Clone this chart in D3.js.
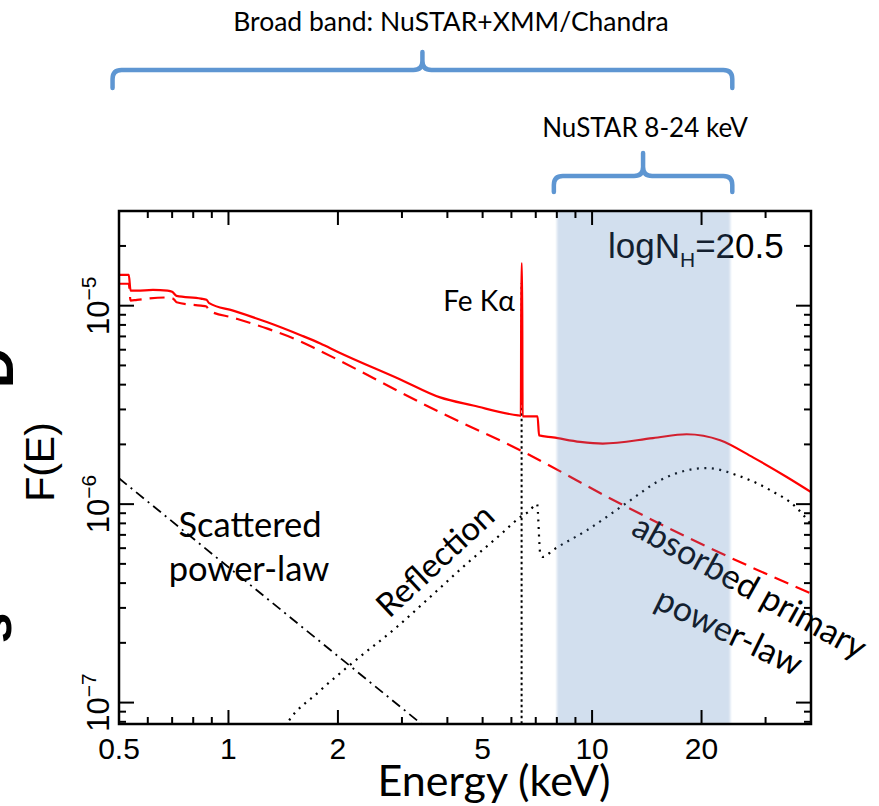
<!DOCTYPE html>
<html>
<head>
<meta charset="utf-8">
<script src="https://cdn.jsdelivr.net/npm/d3@7"></script>
<style>
  body { margin: 0; background: #fff; }
  svg { display: block; }
</style>
</head>
<body>
<svg id="chart" width="879" height="806"></svg>
<script>
// Model components, [energy keV, F(E)]
var totalModel = [
  [0.50, 1.43e-5], [0.532, 1.43e-5], [0.538, 1.19e-5], [0.56, 1.19e-5], [0.62, 1.20e-5],
  [0.68, 1.19e-5], [0.70, 1.175e-5], [0.72, 1.12e-5], [0.84, 1.085e-5], [0.87, 1.07e-5],
  [0.885, 1.03e-5], [1.03, 9.44e-6], [1.28, 8.25e-6], [1.58, 7.1e-6], [1.79, 6.45e-6],
  [2.0, 5.85e-6], [2.97, 4.25e-6], [3.82, 3.45e-6], [4.71, 3.14e-6], [6.26, 2.80e-6],
  [6.37, 2.79e-6], [6.39, 1.63e-5], [6.42, 1.63e-5], [6.44, 2.77e-6], [7.08, 2.77e-6],
  [7.15, 2.22e-6], [7.81, 2.17e-6], [9.27, 2.06e-6], [10.7, 2.02e-6], [14.7, 2.15e-6],
  [18.2, 2.25e-6], [22.5, 2.10e-6], [27.7, 1.72e-6], [34.3, 1.37e-6], [40, 1.15e-6]
];
var absorbedPL = [
  [0.50, 1.29e-5], [0.532, 1.29e-5], [0.538, 1.06e-5], [0.56, 1.07e-5], [0.68, 1.10e-5],
  [0.705, 1.085e-5], [0.72, 1.04e-5], [0.84, 1.0e-5], [0.87, 9.9e-6], [0.885, 9.45e-6],
  [1.03, 8.7e-6], [1.28, 7.66e-6], [1.58, 6.6e-6], [1.76, 6.0e-6], [3.82, 2.90e-6],
  [6.34, 1.87e-6], [11.9, 1.01e-6], [18.2, 6.83e-7], [27.7, 4.77e-7], [40, 3.55e-7]
];
var reflection = [
  [1.40, 7.0e-8], [1.45, 7.84e-8], [1.76, 1.12e-7], [2.16, 1.55e-7], [2.91, 2.41e-7],
  [3.59, 3.41e-7], [4.42, 4.83e-7], [5.66, 7.15e-7], [6.34, 8.6e-7], [6.67, 9.12e-7],
  [7.06, 1.0e-6], [7.2, 5.67e-7], [7.33, 5.42e-7], [7.81, 5.87e-7], [9.69, 7.4e-7],
  [12.5, 1.02e-6], [15.4, 1.32e-6], [18.2, 1.48e-6], [20.7, 1.52e-6], [25.0, 1.40e-6],
  [30.8, 1.18e-6], [36.6, 9.55e-7], [40, 7.9e-7]
];
var feLine = [[6.40, 5e-8], [6.40, 1.30e-5]];
var scatteredPL = [[0.5, 1.35e-6], [3.6, 7.15e-8]];

// Axes
var xDomain = [0.5, 40];
var yDomain = [7.8e-8, 3.0e-5];
var xTickLabels = [0.5, 1, 2, 5, 10, 20];
var xMajorTicks = [1, 2, 10, 20];
var xMinorTicks = [0.6, 0.7, 0.8, 0.9, 3, 4, 5, 6, 7, 8, 9, 30];
var yMajorTicks = [1e-7, 1e-6, 1e-5];
var yTickExp = ["\u22127", "\u22126", "\u22125"];
var yMinorTicks = [8e-8, 9e-8, 2e-7, 3e-7, 4e-7, 5e-7, 6e-7, 7e-7, 8e-7, 9e-7,
  2e-6, 3e-6, 4e-6, 5e-6, 6e-6, 7e-6, 8e-6, 9e-6, 2e-5];

// Bands (keV)
var nustarBand = [8, 24];
var broadBrace = [0.48, 24.3];
var nustarBrace = [7.85, 24.3];

var svg = d3.select("#chart");
var L = 119, R = 811, T = 211, B = 724;

var x = d3.scaleLog().domain(xDomain).range([L, R]);
var y = d3.scaleLog().domain(yDomain).range([B, T]);

svg.append("defs").append("clipPath").attr("id", "plotClip")
  .append("rect").attr("x", L).attr("y", T).attr("width", R - L).attr("height", B - T);
svg.select("defs").append("filter").attr("id", "soft")
  .append("feGaussianBlur").attr("stdDeviation", 1.2);

var line = d3.line().x(function(d) { return x(d[0]); }).y(function(d) { return y(d[1]); });
var smooth = d3.line().x(function(d) { return x(d[0]); }).y(function(d) { return y(d[1]); })
  .curve(d3.curveMonotoneX);

var plot = svg.append("g").attr("clip-path", "url(#plotClip)");

// Components
plot.append("path").datum(scatteredPL).attr("d", line)
  .attr("fill", "none").attr("stroke", "#000").attr("stroke-width", 1.8)
  .attr("stroke-dasharray", "10,5,2,5");
plot.append("path").datum(reflection).attr("d", smooth)
  .attr("fill", "none").attr("stroke", "#000").attr("stroke-width", 2.2)
  .attr("stroke-dasharray", "2,5.5");
plot.append("path").datum(feLine).attr("d", line)
  .attr("fill", "none").attr("stroke", "#000").attr("stroke-width", 2)
  .attr("stroke-dasharray", "2.5,3");
plot.append("path").datum(absorbedPL).attr("d", smooth)
  .attr("fill", "none").attr("stroke", "#f00").attr("stroke-width", 2.2)
  .attr("stroke-dasharray", "15,8");
plot.append("path").datum(totalModel).attr("d", smooth)
  .attr("fill", "none").attr("stroke", "#f00").attr("stroke-width", 2.2);

// Annotations (Calibri-like)
var calib = "Lato, 'Open Sans', sans-serif";
var ann = svg.append("g").attr("font-family", calib).attr("fill", "#000");
ann.append("text").attr("x", 479).attr("y", 311).attr("text-anchor", "middle")
  .attr("font-size", 28).text("Fe K\u03b1");
ann.append("text").attr("x", 250).attr("y", 537).attr("text-anchor", "middle")
  .attr("font-size", 34.5).text("Scattered");
ann.append("text").attr("x", 249).attr("y", 581).attr("text-anchor", "middle")
  .attr("font-size", 34.5).text("power-law");
ann.append("text").attr("transform", "translate(443,569) rotate(-43)")
  .attr("text-anchor", "middle").attr("font-size", 33).text("Reflection");
ann.append("text").attr("transform", "translate(744,597) rotate(29)")
  .attr("text-anchor", "middle").attr("font-size", 34).text("absorbed primary");
ann.append("text").attr("transform", "translate(724,642) rotate(26)")
  .attr("text-anchor", "middle").attr("font-size", 34).text("power-law");

var helv = "'Liberation Sans', Arial, Helvetica, sans-serif";
var nh = svg.append("text").attr("x", 608).attr("y", 258)
  .attr("font-family", helv).attr("font-size", 35).attr("fill", "#000");
nh.append("tspan").text("logN");
nh.append("tspan").attr("font-size", 21).attr("dy", 9).text("H");
nh.append("tspan").attr("dy", -9).text("=20.5");

// NuSTAR band overlay
svg.append("rect")
  .attr("x", x(nustarBand[0])).attr("y", T)
  .attr("width", x(nustarBand[1]) - x(nustarBand[0])).attr("height", B - T)
  .attr("fill", "rgb(79,129,189)").attr("opacity", 0.25)
  .attr("filter", "url(#soft)");

// Ticks on all four sides, pointing inwards
var axes = svg.append("g").attr("stroke", "#000").attr("stroke-width", 2);
function xTicks(vals, len) {
  axes.selectAll(null).data(vals).enter().append("line")
    .attr("x1", x).attr("x2", x).attr("y1", B).attr("y2", B - len);
  axes.selectAll(null).data(vals).enter().append("line")
    .attr("x1", x).attr("x2", x).attr("y1", T).attr("y2", T + len);
}
function yTicks(vals, len) {
  axes.selectAll(null).data(vals).enter().append("line")
    .attr("y1", y).attr("y2", y).attr("x1", L).attr("x2", L + len);
  axes.selectAll(null).data(vals).enter().append("line")
    .attr("y1", y).attr("y2", y).attr("x1", R).attr("x2", R - len);
}
xTicks(xMajorTicks, 14);
xTicks(xMinorTicks, 7);
yTicks(yMajorTicks, 15);
yTicks(yMinorTicks, 7);
axes.append("rect").attr("x", L).attr("y", T).attr("width", R - L).attr("height", B - T)
  .attr("fill", "none").attr("stroke-width", 2.5);

// Tick labels
svg.append("g").attr("font-family", helv).attr("font-size", 30).attr("text-anchor", "middle")
  .selectAll("text").data(xTickLabels).enter().append("text")
  .attr("x", x).attr("y", 759).text(function(d) { return d; });

var yl = svg.append("g").attr("font-family", helv).attr("font-size", 31)
  .selectAll("text").data(yMajorTicks).enter().append("text")
  .attr("text-anchor", "middle")
  .attr("transform", function(d) { return "translate(109," + y(d) + ") rotate(-90)"; });
yl.append("tspan").text("10");
yl.append("tspan").attr("font-size", 21).attr("dy", -13)
  .text(function(d, i) { return yTickExp[i]; });

svg.append("text").attr("transform", "translate(54,462) rotate(-90)")
  .attr("text-anchor", "middle").attr("font-family", helv).attr("font-size", 41)
  .text("F(E)");
svg.append("text").attr("x", 494).attr("y", 796).attr("text-anchor", "middle")
  .attr("font-family", calib).attr("font-size", 43)
  .text("Energy (keV)");

// Braces above the plot
function brace(span, yLine, yTip, yPeak) {
  var x0 = x(span[0]), x1 = x(span[1]), xm = (x0 + x1) / 2, r = 9;
  var p = d3.path();
  p.moveTo(x0, yTip);
  p.lineTo(x0, yLine + r);
  p.quadraticCurveTo(x0, yLine, x0 + r, yLine);
  p.lineTo(xm - r, yLine);
  p.quadraticCurveTo(xm, yLine, xm, yLine - r);
  p.lineTo(xm, yPeak);
  p.moveTo(xm, yLine - r);
  p.quadraticCurveTo(xm, yLine, xm + r, yLine);
  p.lineTo(x1 - r, yLine);
  p.quadraticCurveTo(x1, yLine, x1, yLine + r);
  p.lineTo(x1, yTip);
  svg.append("path").attr("d", p.toString())
    .attr("fill", "none").attr("stroke", "#5e96d2").attr("stroke-width", 4.5)
    .attr("stroke-linecap", "round");
}
brace(broadBrace, 70, 88, 52);
brace(nustarBrace, 176, 192, 153);

svg.append("text").attr("x", 451).attr("y", 31).attr("text-anchor", "middle")
  .attr("font-family", calib).attr("font-size", 26.5).text("Broad band: NuSTAR+XMM/Chandra");
svg.append("text").attr("x", 645).attr("y", 137).attr("text-anchor", "middle")
  .attr("font-family", calib).attr("font-size", 26).text("NuSTAR 8-24 keV");

// Fragments of a clipped label at the left edge
svg.append("text").attr("transform", "translate(13,368) rotate(-90)")
  .attr("text-anchor", "middle").attr("font-family", helv).attr("font-weight", "bold")
  .attr("font-size", 56).text("D");
svg.append("text").attr("transform", "translate(11,628) rotate(-90)")
  .attr("text-anchor", "middle").attr("font-family", helv).attr("font-weight", "bold")
  .attr("font-size", 56).text("s");
</script>
</body>
</html>
